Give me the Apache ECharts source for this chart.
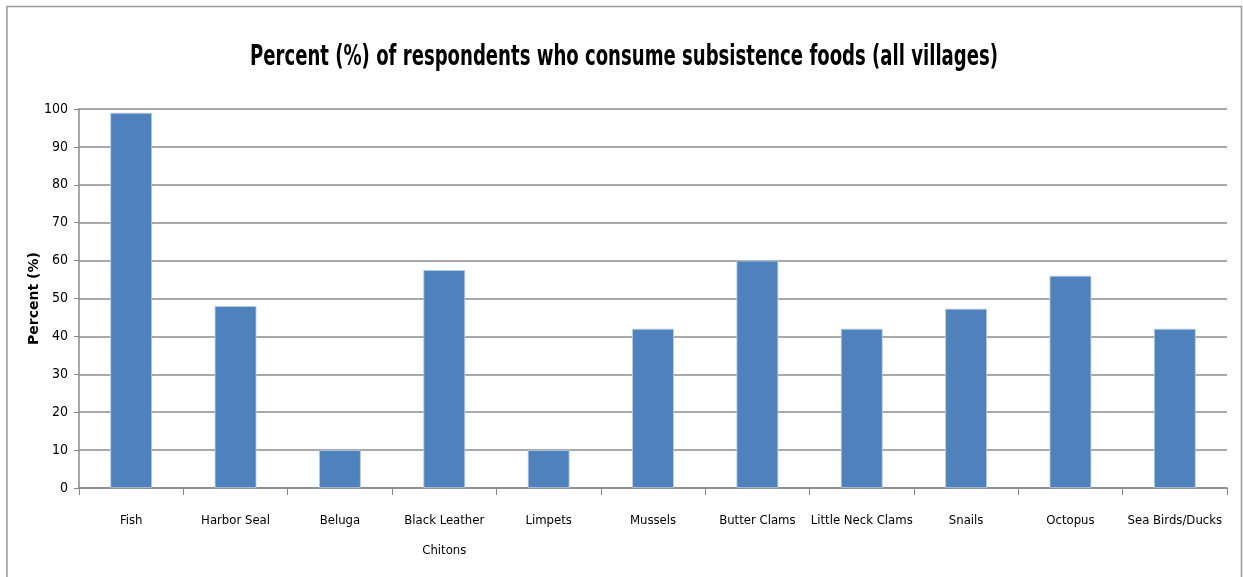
<!DOCTYPE html>
<html>
<head>
<meta charset="utf-8">
<script src="https://cdn.jsdelivr.net/npm/echarts@6/dist/echarts.min.js"></script>
<style>html,body{margin:0;padding:0;background:#fff}#c{width:1243px;height:577px}</style>
</head>
<body>
<div id="c"></div>
<script>
const categories = ['Fish','Harbor Seal','Beluga','Black Leather\nChitons','Limpets','Mussels','Butter Clams','Little Neck Clams','Snails','Octopus','Sea Birds/Ducks'];
const values = [99, 48, 10, 57.5, 10, 42, 60, 42, 47.3, 56, 42];
const titleText = 'Percent (%) of respondents who consume subsistence foods (all villages)';
const yAxisName = 'Percent (%)';

const narrow = '"DejaVu Sans Condensed", "Liberation Sans Narrow", sans-serif';
const chart = echarts.init(document.getElementById('c'), null, {renderer:'canvas'});
chart.setOption({
  animation: false,
  backgroundColor: '#fff',
  graphic: [{
    type: 'rect', shape: {x: 7, y: 6.5, width: 1234.5, height: 580},
    style: {fill: 'none', stroke: '#9a9a9a', lineWidth: 1.5}, silent: true
  }, {
    type: 'text', x: 624, y: 57, scaleX: 0.693,
    style: {text: titleText, font: 'bold 29px "DejaVu Sans Condensed", sans-serif', fill: '#000', align: 'center', verticalAlign: 'middle'}
  }],
  grid: {left: 79, right: 16, top: 109, bottom: 89, containLabel: false},
  xAxis: {
    type: 'category',
    data: categories,
    axisLine: {lineStyle: {color: '#888', width: 1.5}},
    axisTick: {show: true, alignWithLabel: false, length: 7, lineStyle: {color: '#888'}},
    axisLabel: {fontFamily: narrow, fontSize: 13, color: '#000', margin: 18, lineHeight: 30, interval: 0}
  },
  yAxis: {
    type: 'value', min: 0, max: 100, interval: 10,
    name: yAxisName, nameLocation: 'middle', nameGap: 38, nameMoveOverlap: false,
    nameTextStyle: {fontFamily: 'DejaVu Sans', fontWeight: 'bold', fontSize: 14, color: '#000'},
    axisLine: {show: true, lineStyle: {color: '#888', width: 1.5}},
    axisTick: {show: true, length: 5, lineStyle: {color: '#888'}},
    axisLabel: {fontFamily: narrow, fontSize: 14, color: '#000', margin: 11},
    splitLine: {lineStyle: {color: '#8c8c8c', width: 1.5}}
  },
  series: [{
    type: 'bar',
    data: values,
    barWidth: '40%',
    itemStyle: {color: '#4f81bd', borderColor: '#b9cde5', borderWidth: 0.8}
  }]
});
</script>
</body>
</html>
